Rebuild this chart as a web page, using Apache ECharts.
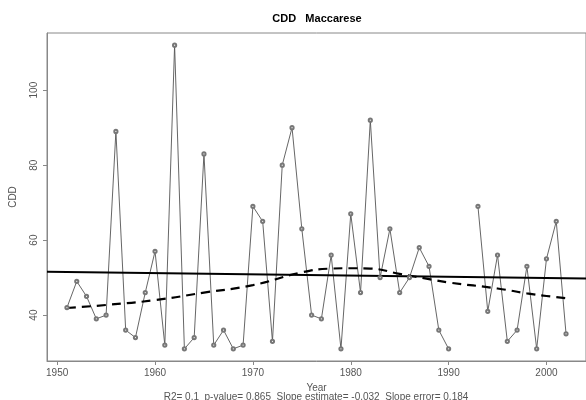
<!DOCTYPE html>
<html><head><meta charset="utf-8">
<script src="https://cdn.jsdelivr.net/npm/echarts@6/dist/echarts.min.js"></script>
<style>html,body{margin:0;padding:0;background:#fff}#c{width:586px;height:400px}</style>
</head><body><div id="c"></div>
<script>
const years = [1951,1952,1953,1954,1955,1956,1957,1958,1959,1960,1961,1962,1963,1964,1965,1966,1967,1968,1969,1970,1971,1972,1973,1974,1975,1976,1977,1978,1979,1980,1981,1982,1983,1984,1985,1986,1987,1988,1989,1990,1991,1992,1993,1994,1995,1996,1997,1998,1999,2000,2001,2002];
const cdd = [42,49,45,39,40,89,36,34,46,57,32,112,31,34,83,32,36,31,32,69,65,33,80,90,63,40,39,56,31,67,46,92,50,63,46,50,58,53,36,31,null,null,69,41,56,33,36,53,31,55,65,35];
const regYears = [1948.96, 2004.04];
const regValues = [51.55, 49.79];
const lowessYears = [1951,1955,1960,1965,1970,1975,1978,1980,1982,1985,1988,1990,1995,1998,2000,2002];
const lowessValues = [41.9,42.7,44.0,46.0,48.0,51.4,52.4,52.5,52.4,51.0,49.6,48.7,47.1,45.8,45.1,44.5];
const xTicks = [1950,1960,1970,1980,1990,2000];
const yTicks = [40,60,80,100];
const titleText = 'CDD   Maccarese';
const subText = 'R2= 0.1  p-value= 0.865  Slope estimate= -0.032  Slope error= 0.184';

const chart = echarts.init(document.getElementById('c'), null, {renderer:'canvas'});
const font = 'Liberation Sans, Arial, sans-serif';
chart.setOption({
  animation:false,
  backgroundColor:'#fff',
  title:[
    {text:titleText, left:317, top:13, textAlign:'center', padding:0,
     textStyle:{fontFamily:font,fontSize:11,fontWeight:'bold',color:'#000'}},
    {text:subText, left:316, top:392, textAlign:'center', padding:0,
     textStyle:{fontFamily:font,fontSize:10,fontWeight:'normal',color:'#555'}}
  ],
  grid:{left:44, top:33, width:547, height:328, show:true, borderColor:'#888', borderWidth:1, backgroundColor:'transparent'},
  xAxis:{type:'value', min:1948.96, max:2004.04,
    name:'Year', nameLocation:'middle', nameGap:22,
    nameTextStyle:{fontFamily:font,fontSize:10,color:'#555'},
    axisLine:{show:true,lineStyle:{color:'#888'}},
    axisTick:{show:true,length:4,customValues:xTicks,lineStyle:{color:'#888'}},
    axisLabel:{customValues:xTicks,formatter:v=>String(v),fontFamily:font,fontSize:10,color:'#555',margin:7},
    splitLine:{show:false}},
  yAxis:{type:'value', min:27.76, max:115.24,
    name:'CDD', nameLocation:'middle', nameGap:29, nameRotate:90,
    nameTextStyle:{fontFamily:font,fontSize:10,color:'#555'},
    axisLine:{show:true,lineStyle:{color:'#888'}},
    axisTick:{show:true,length:4,customValues:yTicks,lineStyle:{color:'#888'}},
    axisLabel:{customValues:yTicks,formatter:v=>String(v),rotate:90,fontFamily:font,fontSize:10,color:'#555',margin:8},
    splitLine:{show:false}},
  series:[
    {type:'line', data:years.map((y,i)=>[y,cdd[i]]), connectNulls:false,
     symbol:'emptyCircle', symbolSize:3.2, showAllSymbol:true,
     lineStyle:{color:'#555',width:0.9}, itemStyle:{color:'#777',borderWidth:0.7}},
    {type:'line', data:regYears.map((y,i)=>[y,regValues[i]]), symbol:'none',
     lineStyle:{color:'#000',width:2}},
    {type:'line', data:lowessYears.map((y,i)=>[y,lowessValues[i]]), symbol:'none', smooth:true,
     lineStyle:{color:'#000',width:2.2,type:[9,6]}}
  ]
});
</script></body></html>
